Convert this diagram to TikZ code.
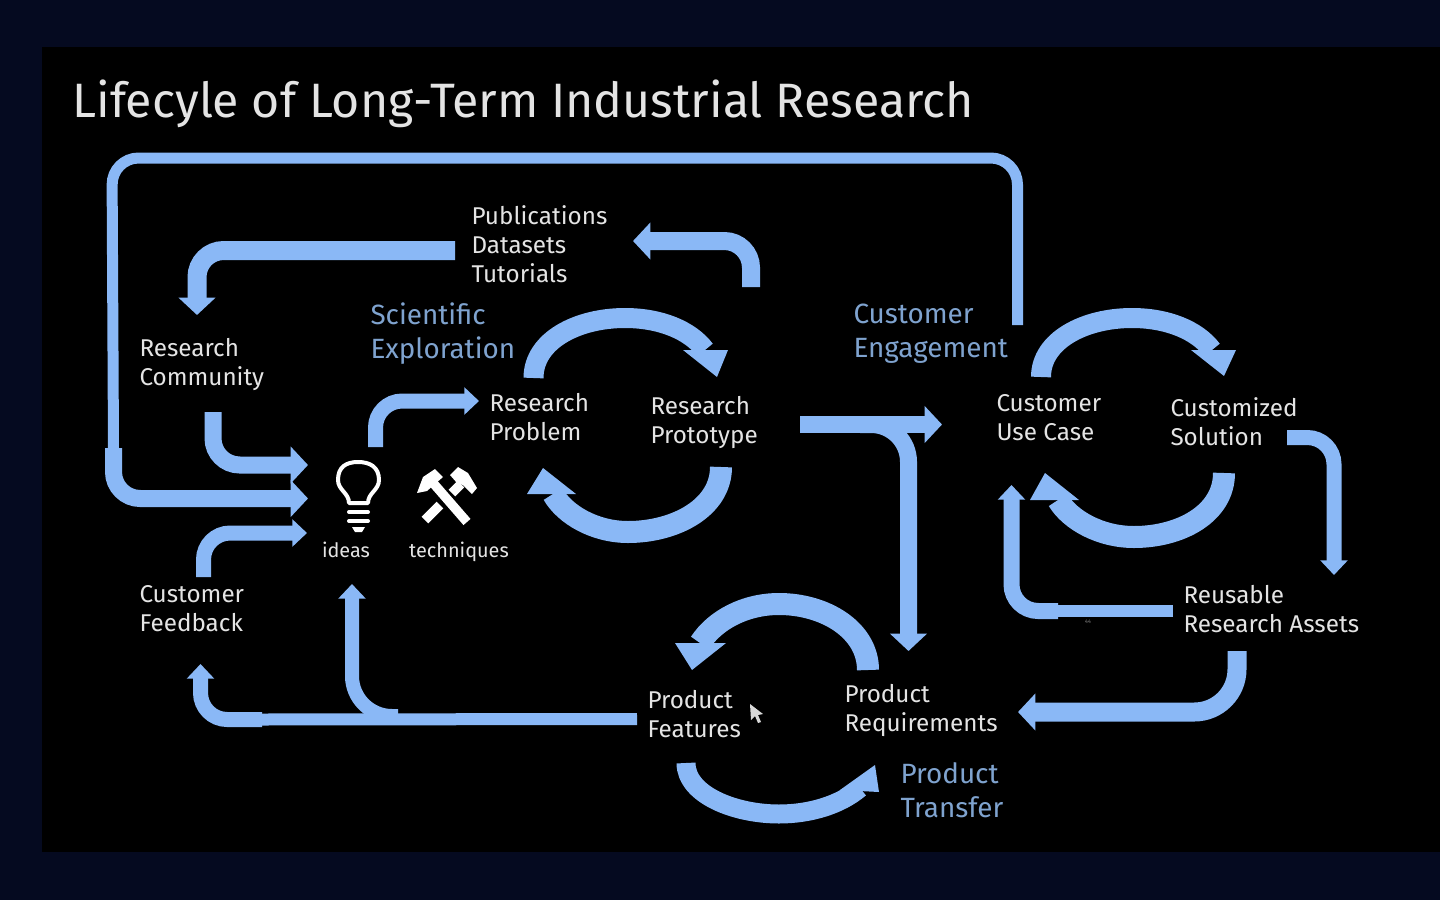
\documentclass[tikz,border=0pt]{standalone}
\usepackage{fontspec}
\setmainfont{Fira Sans}
\usetikzlibrary{arrows.meta}
\definecolor{flowblue}{HTML}{8AB8F6}
\definecolor{navyedge}{HTML}{050A20}
\definecolor{phaseblue}{HTML}{7FA3CF}
\definecolor{labelgrey}{HTML}{E4E4E4}
\tikzset{
  every picture/.style={line width=0.75pt},
  flowline/.style={draw=flowblue,line width=#1*0.75pt,rounded corners=20pt},
  flow/.style={flowline=#1,-{Triangle[length=13pt,width=27pt]}},
  flowsmall/.style={flowline=#1,-{Triangle[length=11pt,width=20pt]}},
  loopline/.style={draw=flowblue,line width=#1*0.75pt},
  loophead/.style={fill=flowblue},
  lbl/.style={anchor=north west,inner sep=0pt,align=left,text=labelgrey,font=\fontsize{18.2}{21.75}\selectfont},
  phase/.style={anchor=north west,inner sep=0pt,align=left,text=phaseblue,font=\fontsize{20.9}{25.5}\selectfont},
  icontext/.style={inner sep=0pt,text=labelgrey,font=\fontsize{14.9}{17}\selectfont},
  iconline/.style={draw=white,line width=3pt,line cap=round},
}
\begin{document}
\begin{tikzpicture}[x=0.75pt,y=0.75pt,yscale=-1,xscale=1]
    \useasboundingbox (0,0) rectangle (1440,900);
    \fill[navyedge] (0,0) rectangle (1440,900);
    \fill[black] (42,47) rectangle (1440,852);

    % Text Node
    \node (title) [anchor=north west,inner sep=0pt,text=labelgrey,font=\fontsize{36.2}{42}\selectfont] at (72,79) {Lifecyle of Long-Term Industrial Research};
    \node (outputs) [lbl] at (471,205) {Publications\\Datasets\\Tutorials};
    \node (community) [lbl] at (139,338) {Research\\Community};
    \node (feedback) [lbl] at (139,585) {Customer\\Feedback};
    \node (problem) [lbl] at (489,393) {Research\\Problem};
    \node (prototype) [lbl] at (650,396) {Research\\Prototype};
    \node (usecase) [lbl] at (996,394) {Customer\\Use Case};
    \node (solution) [lbl] at (1170,397) {Customized\\Solution};
    \node (assets) [lbl] at (1183,585) {Reusable\\Research Assets};
    \node (features) [lbl] at (647,690) {Product\\Features};
    \node (requirements) [lbl] at (844,684) {Product\\Requirements};
    \node (exploration) [phase] at (370,302) {Scientific\\Exploration};
    \node (engagement) [phase] at (853,303) {Customer\\Engagement};
    \node (transfer) [phase] at (900,762) {Product\\Transfer};
    \node (ideas) [icontext] at (346,550) {ideas};
    \node (techniques) [icontext] at (459,552) {techniques};
    \node (pagemark) [inner sep=0pt,text=labelgrey!60!black,font=\fontsize{4}{5}\selectfont] at (1088,622) {44};

    % Free ends
    \coordinate (bigLoopStart) at (1017.5,325);
    \coordinate (bigLoopTop) at (112,158);
    \coordinate (bigLoopJoin) at (113.5,448);
    \coordinate (ideasInA) at (308,465);
    \coordinate (ideasInB) at (308,498.5);
    \coordinate (ideasInC) at (307,533);
    \coordinate (ideasOut) at (375.5,447);
    \coordinate (problemIn) at (479,401);
    \coordinate (communityOut) at (213,412);
    \coordinate (feedbackOut) at (203.5,577);
    \coordinate (outputsOut) at (455,250.5);
    \coordinate (communityIn) at (197,315);
    \coordinate (protoOut) at (751,287);
    \coordinate (outputsIn) at (633,241);
    \coordinate (prototypeOut) at (800,424.5);
    \coordinate (engageIn) at (942,424.5);
    \coordinate (branchA) at (860,424.5);
    \coordinate (requireIn) at (908.5,651);
    \coordinate (solutionOut) at (1287,437.5);
    \coordinate (assetsIn) at (1334,575);
    \coordinate (assetsOut) at (1173,611);
    \coordinate (assetsJoin) at (1058,611);
    \coordinate (usecaseIn) at (1011.5,485);
    \coordinate (assetsDown) at (1237,651);
    \coordinate (requireSide) at (1018,712);
    \coordinate (featuresOut) at (637,719);
    \coordinate (feedJoin) at (262,719.5);
    \coordinate (feedbackIn) at (200.5,664);
    \coordinate (ideasBranch) at (398,716);
    \coordinate (ideasUp) at (352,584);

    % Long arrows
    \draw[flowline=11] (bigLoopStart) |- (bigLoopTop) -- (bigLoopJoin);
    \draw[flow=17] (bigLoopJoin) |- (ideasInB);
    \draw[flow=17] (communityOut) |- (ideasInA);
    \draw[flowsmall=15] (feedbackOut) |- (ideasInC);
    \draw[flowsmall=15] (ideasOut) |- (problemIn);
    \draw[flow=19] (outputsOut) -| (communityIn);
    \draw[flow=18] (protoOut) |- (outputsIn);
    \draw[flow=17] (prototypeOut) -- (engageIn);
    \draw[flow=17,rounded corners=28pt] (branchA) -| (requireIn);
    \draw[flowsmall=15] (solutionOut) -| (assetsIn);
    \draw[flowline=12] (assetsOut) -- (assetsJoin);
    \draw[flowsmall=16] (assetsJoin) -| (usecaseIn);
    \draw[flow=19,rounded corners=32pt] (assetsDown) |- (requireSide);
    \draw[flowline=12] (featuresOut) -- (feedJoin);
    \draw[flowsmall=15] (feedJoin) -| (feedbackIn);
    \draw[flowsmall=14,rounded corners=30pt] (ideasBranch) -| (ideasUp);

    % Research loop
    \draw[loopline=20] (533.5,378) .. controls (533.5,340) and (578,318) .. (625,318) .. controls (660,318) and (690,330) .. (705,350);
    \fill[loophead] (683,350) -- (728,350) -- (717,377) -- cycle;
    \draw[loopline=22] (721,467) .. controls (721,508) and (675,532) .. (628,532) .. controls (595,532) and (565,515) .. (553,494);
    \fill[loophead] (543,468) -- (527,494) -- (576,494) -- cycle;
    % Customer loop
    \draw[loopline=20] (1041,377) .. controls (1041,340) and (1085,318) .. (1132,318) .. controls (1167,318) and (1197,330) .. (1212,350);
    \fill[loophead] (1191,350) -- (1236,350) -- (1224,376) -- cycle;
    \draw[loopline=22] (1224,473) .. controls (1224,514) and (1180,537) .. (1134,537) .. controls (1100,537) and (1070,520) .. (1058,500);
    \fill[loophead] (1045,473) -- (1030,500) -- (1079,500) -- cycle;
    % Product loop
    \draw[loopline=22] (868,670) .. controls (868,630) and (825,604) .. (779,604) .. controls (745,604) and (715,620) .. (700,643);
    \fill[loophead] (692,670) -- (675,643) -- (726,643) -- cycle;
    \draw[loopline=19] (686,763) .. controls (686,795) and (735,814) .. (779,814) .. controls (810,814) and (840,805) .. (860,788);
    \fill[loophead] (875,765) -- (879,792) -- (840,790) -- cycle;

    % Bulb
    \draw[iconline,line join=round] (349,503) .. controls (349,493) and (338,490) .. (338,480) .. controls (338,467) and (346,462) .. (358,462) .. controls (370,462) and (379,467) .. (379,480) .. controls (379,490) and (368,493) .. (368,503) -- cycle;
    \draw[iconline] (349,512) -- (368,512);
    \draw[iconline] (349,521) -- (368,521);
    \fill[white] (352,527) -- (365,527) -- (362,532) -- (355,532) -- cycle;
    % Hammers
    \draw[white,line width=7pt] (467,522) -- (434,484);
    \draw[white,line width=7pt] (425,520) -- (440,505);
    \draw[white,line width=7pt] (452,493) -- (461,484);
    \fill[white] (417,493) -- (423,477) -- (435,469) -- (443,477) -- (427,491) -- cycle;
    \fill[white] (450,475) -- (458,467) -- (468,473) -- (477,488) -- (472,494) -- (463,485) -- (457,483) -- cycle;
    % Pointer
    \fill[white!85!black] (750,704) -- (751,720) -- (755,716) -- (758,723) -- (761,722) -- (758,715) -- (763,714) -- cycle;
\end{tikzpicture}
\end{document}
